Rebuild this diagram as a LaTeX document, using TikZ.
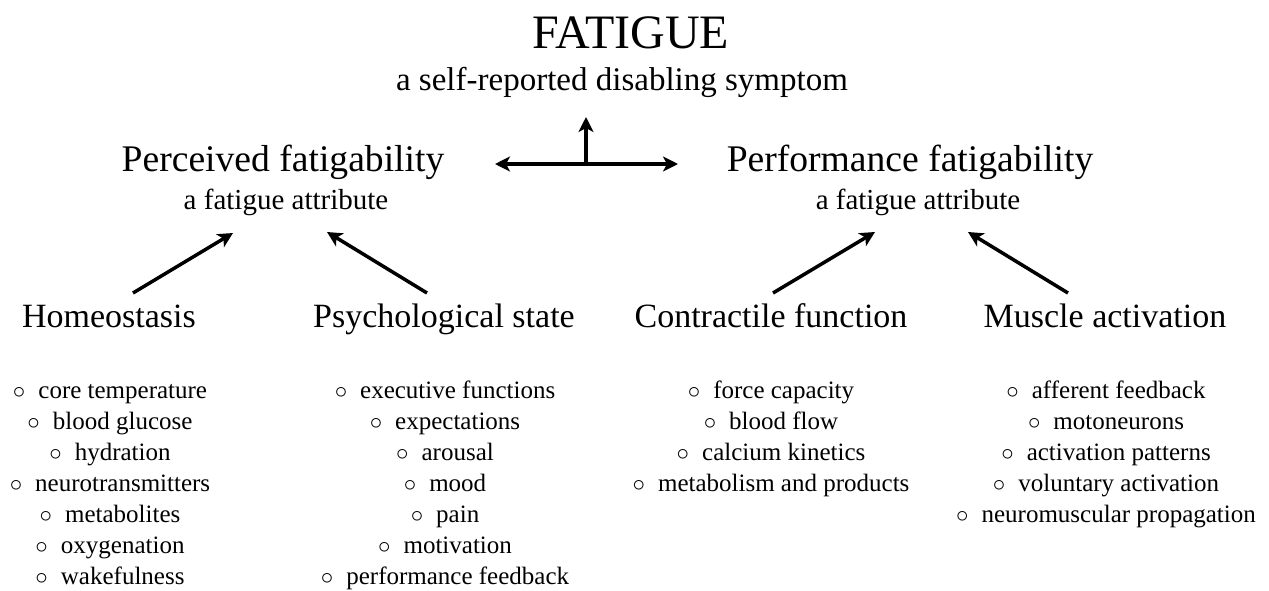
\documentclass[tikz,border=0pt]{standalone}
\usepackage{fontspec}
\setmainfont{Liberation Serif}
\usetikzlibrary{arrows.meta}

\newcommand{\bul}{$\circ$\hspace{13pt}}

\begin{document}
\begin{tikzpicture}[x=1pt, y=-1pt,
    every node/.style={inner sep=0pt, anchor=base},
    title/.style={font=\fontsize{48}{56}\selectfont},
    subtitle/.style={font=\fontsize{33}{40}\selectfont},
    attr/.style={font=\fontsize{37.6}{44}\selectfont},
    note/.style={font=\fontsize{29}{34}\selectfont},
    factor/.style={font=\fontsize{34}{40}\selectfont},
    item/.style={font=\fontsize{25}{30}\selectfont},
    link/.style={line width=3.5pt, -{Stealth[length=15pt, width=15pt, inset=4pt]}},
    both/.style={line width=3.5pt, {Stealth[length=15pt, width=15pt, inset=4pt]}-{Stealth[length=15pt, width=15pt, inset=4pt]}}]
    \useasboundingbox (0,0) rectangle (1269,590);

    % top
    \node[title] (fatigue) at (631,48) {FATIGUE};
    \node[subtitle] (symptom) at (622,90) {a self-reported disabling symptom};

    % attributes
    \node[attr] (perceived) at (283,171) {Perceived fatigability};
    \node[note] (pnote) at (286,209) {a fatigue attribute};
    \node[attr] (performance) at (910,171) {Performance fatigability};
    \node[note] (fnote) at (918,209) {a fatigue attribute};

    \coordinate (hl) at (495,164);
    \coordinate (hr) at (678,164);
    \coordinate (hm) at (586,164);
    \coordinate (up) at (586,117);
    \draw[both] (hl) -- (hr);
    \draw[link] (hm) -- (up);

    % factors
    \node[factor] (homeo) at (109,327) {Homeostasis};
    \node[factor] (psych) at (444,327) {Psychological state};
    \node[factor] (contr) at (771,327) {Contractile function};
    \node[factor] (musc) at (1105,327) {Muscle activation};

    \coordinate (homeo-t) at (133,293);
    \coordinate (psych-t) at (427,293);
    \coordinate (contr-t) at (773,293);
    \coordinate (musc-t) at (1068,293);
    \coordinate (pnote-l) at (233,233);
    \coordinate (pnote-r) at (327,232);
    \coordinate (fnote-l) at (875,232);
    \coordinate (fnote-r) at (968,232);
    \draw[link] (homeo-t) -- (pnote-l);
    \draw[link] (psych-t) -- (pnote-r);
    \draw[link] (contr-t) -- (fnote-l);
    \draw[link] (musc-t) -- (fnote-r);

    % lists
    \foreach \t [count=\i] in {core temperature, blood glucose, hydration,
        neurotransmitters, metabolites, oxygenation, wakefulness}
        \node[item] (homeo-\i) at (110,{367+31*\i}) {\bul\t};
    \foreach \t [count=\i] in {executive functions, expectations, arousal,
        mood, pain, motivation, performance feedback}
        \node[item] (psych-\i) at (445,{367+31*\i}) {\bul\t};
    \foreach \t [count=\i] in {force capacity, blood flow, calcium kinetics,
        metabolism and products}
        \node[item] (contr-\i) at (771,{367+31*\i}) {\bul\t};
    \foreach \t [count=\i] in {afferent feedback, motoneurons, activation patterns,
        voluntary activation, neuromuscular propagation}
        \node[item] (musc-\i) at (1106,{367+31*\i}) {\bul\t};
\end{tikzpicture}
\end{document}
